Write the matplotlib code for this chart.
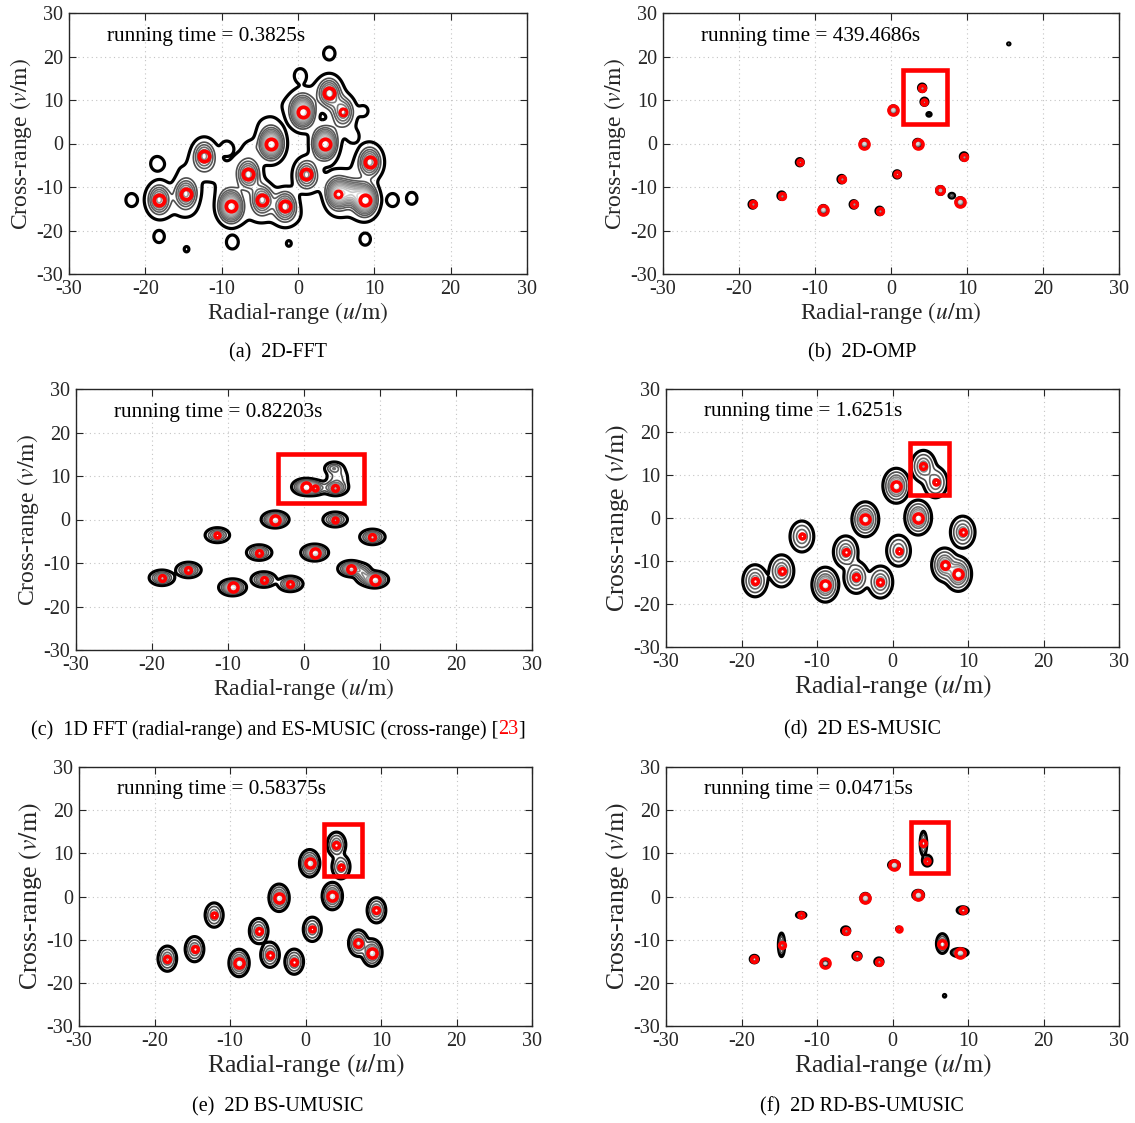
import numpy as np
import matplotlib
matplotlib.use('Agg')
import matplotlib.pyplot as plt
from matplotlib.patches import Rectangle

plt.rcParams['font.family'] = ['Liberation Serif', 'DejaVu Serif']
plt.rcParams['mathtext.fontset'] = 'stix'
plt.rcParams['axes.unicode_minus'] = False

# relative strength of the 16 scatterers (same order in every panel)
amp = [0.6, 0.6, 0.5, 1.0, 0.6, 0.6, 1.0, 0.6, 1.0, 0.5, 1.0, 0.6, 0.5, 0.8, 1.0, 0.6]

# (a) 2D-FFT estimates
fft_x = [-18.2, -14.7, -12.3, -8.8, -6.5, -4.7, -3.5, -1.7, 0.6, 1.1, 3.5, 4.1, 5.9, 5.2, 8.8, 9.4]
fft_y = [-12.9, -11.5, -2.8, -14.4, -7.1, -12.9, 0.0, -14.4, 7.3, -7.1, 0.0, 11.6, 7.3, -11.5, -12.9, -4.2]
fft_weak = [12, 13]
# sidelobe rings of the FFT map
fft_side_x = [4.1, 0.3, -18.5, -21.8, -18.2, -8.6, 8.8, 12.4, 14.9, -14.6, -1.2, 8.6, 7.2, -9.4, -6.1]
fft_side_y = [20.7, 15.7, -4.6, -13.0, -21.4, -22.7, -22.0, -13.0, -12.6, -24.3, -23.0, 7.5, 1.5, -0.8, -1.1]
fft_side_a = [0.15, 0.15, 0.14, 0.15, 0.13, 0.16, 0.13, 0.15, 0.13, 0.07, 0.07, 0.1, 0.1, 0.09, 0.09]
# low plateau joining the main lobes
fft_floor_x = [-16, -12, -9, -7, -4.5, -2, -6, -1, -15, 3, 6.5, 7, 6, 1.5, -10]
fft_floor_y = [-5, -6.5, -5, -1, 5, 9, -17, -17, -16, -9, -16, -6, 3, 12, -10]
# secondary FFT lobe next to the (5.2, -11.5) detection
fft_lobe_x = [7.0]
fft_lobe_y = [-11.3]

# (b) 2D-OMP
omp_x = [-18.2, -14.4, -12.0, -8.9, -6.5, -4.9, -3.5, -1.5, 0.3, 0.8, 3.5, 4.1, 4.4, 6.5, 9.1, 9.6]
omp_y = [-14.0, -12.0, -4.3, -15.2, -8.2, -14.0, 0.0, -15.5, 7.7, -7.1, 0.0, 12.8, 9.6, -10.8, -13.4, -3.0]
omp_extra_x = [5.0, 15.5, 8.0]
omp_extra_y = [6.7, 22.9, -12.0]

# (c) 1D FFT + ES-MUSIC
esm1_x = [-18.7, -15.2, -11.4, -9.4, -5.9, -5.3, -3.8, -1.8, 0.2, 1.4, 1.4, 4.1, 4.1, 6.2, 9.3, 9.0]
esm1_y = [-13.4, -11.6, -3.6, -15.6, -7.6, -13.8, 0.0, -14.8, 7.5, 7.3, -7.6, 7.3, 0.0, -11.3, -13.8, -4.0]
esm1_extra_x = [3.9, 4.4, 7.8]
esm1_extra_y = [11.8, 9.5, -12.5]

# (d) 2D ES-MUSIC
esm2_x = [-18.2, -14.7, -12.0, -8.9, -6.2, -4.8, -3.6, -1.6, 0.5, 0.8, 3.4, 4.1, 5.7, 6.9, 8.7, 9.3]
esm2_y = [-14.6, -12.3, -4.3, -15.5, -7.9, -13.8, -0.3, -14.9, 7.5, -7.6, 0.1, 12.0, 8.3, -10.9, -13.0, -3.3]

# (e) 2D BS-UMUSIC
bs_x = [-18.3, -14.7, -12.1, -8.8, -6.2, -4.7, -3.5, -1.5, 0.55, 0.9, 3.55, 4.1, 4.7, 7.0, 8.8, 9.4]
bs_y = [-14.4, -12.2, -4.3, -15.4, -8.0, -13.5, -0.3, -15.1, 7.7, -7.6, 0.1, 12.0, 6.9, -10.8, -13.0, -3.2]

# (f) 2D RD-BS-UMUSIC
rd_x = [-18.3, -14.7, -12.1, -8.9, -6.2, -4.7, -3.6, -1.8, 0.2, 0.8, 3.4, 4.1, 4.6, 6.6, 8.9, 9.3]
rd_y = [-14.5, -11.2, -4.3, -15.5, -7.9, -13.8, -0.35, -15.1, 7.3, -7.5, 0.35, 12.3, 8.3, -10.9, -13.0, -3.2]
rd_sx = [0.25, 0.19, 0.3, 0.15, 0.25, 0.25, 0.25, 0.25, 0.3, 0.12, 0.3, 0.2, 0.3, 0.34, 0.47, 0.34]
rd_sy = [0.4, 1.27, 0.3, 0.2, 0.4, 0.4, 0.45, 0.4, 0.4, 0.2, 0.45, 1.3, 0.6, 1.0, 0.4, 0.38]
rd_extra_x = [6.9]
rd_extra_y = [-23.0]

run_times = ['0.3825s', '439.4686s', '0.82203s', '1.6251s', '0.58375s', '0.04715s']
captions = ['(a)  2D-FFT', '(b)  2D-OMP', '(c)  1D FFT (radial-range) and ES-MUSIC (cross-range) [',
            '(d)  2D ES-MUSIC', '(e)  2D BS-UMUSIC', '(f)  2D RD-BS-UMUSIC']
ticks = [-30, -20, -10, 0, 10, 20, 30]

xg = np.linspace(-30, 30, 1001)
X, Y = np.meshgrid(xg, xg)


def field(xs, ys, amps, sx, sy):
    Z = np.zeros_like(X)
    n = len(xs)
    for x0, y0, a, s1, s2 in zip(xs, ys, amps, np.broadcast_to(sx, n), np.broadcast_to(sy, n)):
        Z += a * np.exp(-0.5 * (((X - x0) / s1) ** 2 + ((Y - y0) / s2) ** 2))
    return Z


fields = [
    field(fft_x, fft_y, amp, 0.9, 2.1) + field(fft_side_x, fft_side_y, fft_side_a, 0.55, 1.1)
    + field(fft_floor_x, fft_floor_y, [0.045] * len(fft_floor_x), 2.0, 2.0)
    + field(fft_lobe_x, fft_lobe_y, [0.6], 1.0, 1.8),
    field(omp_x, omp_y, amp, 0.22, 0.4) + field(omp_extra_x, omp_extra_y, [0.15, 0.08, 0.3], 0.2, 0.3),
    field(esm1_x, esm1_y, amp, 0.75, 0.8) + field(esm1_extra_x, esm1_extra_y, [0.3, 0.2, 0.4], [0.6, 0.8, 0.6], [0.7, 1.6, 1.1]),
    field(esm2_x, esm2_y, amp, 0.7, 1.6),
    field(bs_x, bs_y, amp, 0.53, 1.25),
    field(rd_x, rd_y, amp, rd_sx, rd_sy) + field(rd_extra_x, rd_extra_y, [0.1], 0.15, 0.3),
]
points = [(fft_x, fft_y), (omp_x, omp_y), (esm1_x, esm1_y), (esm2_x, esm2_y), (bs_x, bs_y), (rd_x, rd_y)]
levels = [
    [0.06, 0.17, 0.25, 0.33, 0.41, 0.49, 0.57, 0.65, 0.73, 0.81, 0.9],
    [0.06, 0.2, 0.35, 0.5, 0.7, 0.9],
    [0.05, 0.15, 0.25, 0.35, 0.45, 0.55, 0.65, 0.75, 0.85],
    [0.04, 0.14, 0.3, 0.45, 0.6, 0.75, 0.88],
    [0.04, 0.14, 0.3, 0.45, 0.6, 0.75, 0.88],
    [0.06, 0.2, 0.4, 0.6, 0.8],
]
boxes = [None, (1.6, 4.4, 5.8, 12.6), (-3.4, 3.7, 11.3, 11.4), (2.3, 5.4, 5.2, 12.0),
         (2.4, 4.7, 5.1, 12.2), (2.4, 5.5, 5.0, 11.8)]
# axes rectangles in pixels: left, top, right, bottom
rects = [(69, 13, 527, 274), (663, 13, 1119, 274), (76, 389, 532, 650),
         (666, 389, 1119, 647), (79, 767, 532, 1026), (666, 767, 1119, 1026)]
label_fs = [17, 17, 17, 18.5, 18.5, 18.5]
cap_y = [353, 353, 730, 730, 1107, 1107]
cap_x = [278, 862, 278, 862, 278, 862]

W, H = 1135, 1123
fig = plt.figure(figsize=(W / 100, H / 100), dpi=100)

for i in range(6):
    l, t, r, b = rects[i]
    ax = fig.add_axes([l / W, 1 - b / H, (r - l) / W, (b - t) / H])
    lv = levels[i]
    shades = ['black'] + [str(g) for g in np.linspace(0.3, 0.85, len(lv) - 1)]
    ax.contour(X, Y, fields[i], levels=lv, colors=shades,
               linewidths=[2.3] + [1.2] * (len(lv) - 1))
    px, py = points[i]
    for k, (x0, y0, a) in enumerate(zip(px, py, amp)):
        if i == 0:
            ms, mew = (5.0, 2.2) if k in fft_weak else (7.5, 2.7)
        else:
            ms, mew = 3.6 + 3.0 * (a - 0.5) / 0.5, 2.5
        ax.plot(x0, y0, 'o', mfc='none', mec='red', mew=mew, ms=ms)
    if boxes[i] is not None:
        bx, by, bw, bh = boxes[i]
        ax.add_patch(Rectangle((bx, by), bw, bh, fill=False, ec='red', lw=3.3, zorder=5))
    ax.text(-25, 24.7, 'running time = ' + run_times[i], fontsize=15.3, va='center')
    ax.set_xlim(-30, 30)
    ax.set_ylim(-30, 30)
    ax.set_xticks(ticks)
    ax.set_yticks(ticks)
    ax.grid(True, linestyle=(0, (1, 3)), color='#c4c4c4', linewidth=0.8)
    ax.tick_params(direction='in', top=True, right=True, length=5, labelsize=14.5,
                   colors='#262626', pad=4)
    for s in ax.spines.values():
        s.set_color('#262626')
        s.set_linewidth(1.0)
    ax.set_xlabel(r'Radial-range $(u/\mathrm{m})$', fontsize=label_fs[i], color='#262626', labelpad=1)
    ax.set_ylabel(r'Cross-range $(v/\mathrm{m})$', fontsize=label_fs[i], color='#262626', labelpad=2)

# captions
fig.canvas.draw()
renderer = fig.canvas.get_renderer()
for i in range(6):
    if i != 2:
        fig.text(cap_x[i] / W, 1 - cap_y[i] / H, captions[i], fontsize=14.5, ha='center', va='center')
        continue
    parts = [(captions[i], 'black'), ('23', 'red'), (']', 'black')]
    objs = [fig.text(0, 1 - cap_y[i] / H, p, fontsize=14.5, va='center', color=c) for p, c in parts]
    widths = [o.get_window_extent(renderer).width for o in objs]
    x = cap_x[i] - sum(widths) / 2
    for o, w in zip(objs, widths):
        o.set_x(x / W)
        x += w

fig.savefig('out.png', dpi=100)
